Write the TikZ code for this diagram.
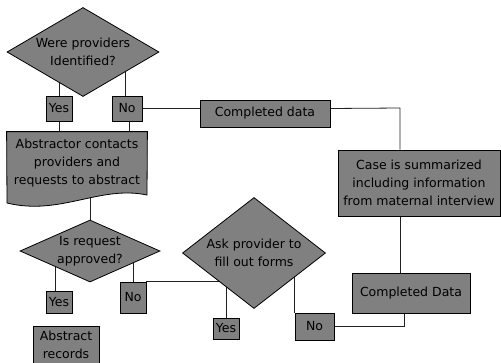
\documentclass[tikz,border=0pt]{standalone}
\usepackage{fontspec}
\setmainfont{DejaVu Sans}
\usetikzlibrary{shapes.geometric,calc}
\pgfdeclarelayer{bg}
\pgfdeclarelayer{mid}
\pgfsetlayers{bg,mid,main}
\definecolor{boxgray}{HTML}{808080}
\definecolor{linegray}{HTML}{202020}
\tikzset{
  box/.style={draw=black, fill=boxgray, line width=0.8pt, inner sep=0pt, align=center, font=\fontsize{12.5}{18}\selectfont},
  dia/.style={box, shape=diamond},
  conn/.style={draw=linegray, line width=0.8pt}
}
\begin{document}
\begin{tikzpicture}[x=1pt,y=-1pt]
\useasboundingbox (0,0) rectangle (501,362);
% nodes
\node[dia, minimum width=152pt, minimum height=89pt, aspect=1.7] (d1) at (83,52) {Were providers\\Identified?};
\node[box, minimum width=26pt, minimum height=25pt] (yes1) at (59,108.5) {Yes};
\node[box, minimum width=30pt, minimum height=25pt] (no1) at (127,108.5) {No};
\node[box, minimum width=130pt, minimum height=27pt] (cd1) at (265,113.5) {Completed data};
\node[box, minimum width=162pt, minimum height=66pt] (case) at (419,183) {Case is summarized\\including information\\from maternal interview};
\node[box, draw=none, fill=none, minimum width=140pt, minimum height=63pt] (doc) at (77,163.5) {Abstractor contacts\\providers and\\requests to abstract};
\begin{pgfonlayer}{mid}
\draw[line width=0.8pt, fill=boxgray] (doc.north west) -- (doc.north east) -- (147,195)
  .. controls (100,185) and (60,216) .. (7,203) -- cycle;
\end{pgfonlayer}
\node[dia, minimum width=140pt, minimum height=62pt, aspect=2.26] (d2) at (90,251) {Is request\\approved?};
\node[box, minimum width=26pt, minimum height=22pt] (yes2) at (59,302) {Yes};
\node[box, minimum width=26pt, minimum height=31pt] (no2) at (133,297.5) {No};
\node[dia, minimum width=143pt, minimum height=111pt, aspect=1.29] (d3) at (254,253) {Ask provider to\\fill out forms};
\node[box, minimum width=26pt, minimum height=21pt] (yes3) at (226,328.5) {Yes};
\node[box, minimum width=39pt, minimum height=27pt] (no3) at (314.5,326.5) {No};
\node[box, minimum width=118pt, minimum height=40pt] (cd2) at (411,293) {Completed Data};
\node[box, minimum width=66pt, minimum height=38pt] (abs) at (66,345) {Abstract\\records};
\coordinate (rx) at (400,108);
% connectors
\begin{pgfonlayer}{bg}
\draw[conn] (yes1.north) -- (yes1.north |- d1.center);
\draw[conn] ($(no1.north)+(-2,0)$) -- ($(no1.north |- d1.center)+(-2,0)$);
\draw[conn] (no1.east) -- (no1.east -| cd1.west);
\draw[conn] (no1.east -| cd1.east) -- (rx) -- (rx |- case.north);
\draw[conn] (rx |- case.south) -- (rx |- cd2.north);
\draw[conn] (yes1.south) -- (yes1.south |- doc.north);
\draw[conn] ($(no1.south)+(2,0)$) -- ($(no1.south |- doc.north)+(2,0)$);
\draw[conn] (d2.north) -- (d2.north |- doc.center);
\draw[conn] ($(yes2.north)+(-4,0)$) -- ($(yes2.north |- d2.center)+(-4,0)$);
\draw[conn] (no2.north) -- (no2.north |- d2.center);
\draw[conn] (no2.north east) -- (no2.north east -| yes3.north);
\draw[conn] (yes3.north) -- (yes3.north |- d3.center);
\draw[conn] (no3.north west) -- (no3.north west |- d3.center);
\draw[conn] (no3.east) -| ($(cd2.south)+(-7,0)$);
\end{pgfonlayer}
\end{tikzpicture}
\end{document}
